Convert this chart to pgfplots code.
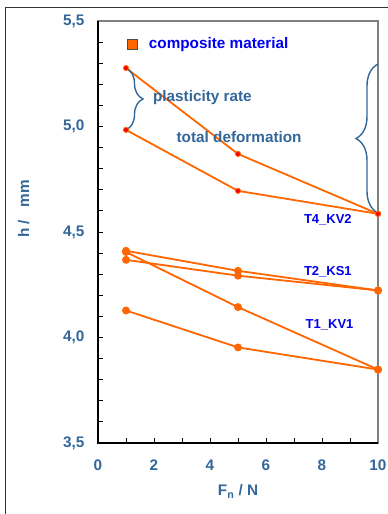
\documentclass[border=0pt]{standalone}
\usepackage{fontspec}
\setmainfont{Liberation Sans}
\usepackage{pgfplots}
\pgfplotsset{compat=1.18}
\usetikzlibrary{decorations.pathreplacing}
\definecolor{lineor}{RGB}{255,102,0}
\definecolor{steel}{RGB}{51,102,153}
\definecolor{txtblue}{RGB}{0,0,240}
\newcommand{\bigf}{\bfseries\fontsize{15.3}{17}\selectfont}
\newcommand{\smallf}{\bfseries\fontsize{13}{15}\selectfont}
\begin{document}
\begin{tikzpicture}
\useasboundingbox (0pt,0pt) rectangle (388pt,514pt);
\draw[line width=0.8pt, black!80] (5.5pt,0pt) -- (5.5pt,507pt) -- (388pt,507pt);
\begin{axis}[
 at={(98pt,71pt)}, anchor=south west,
 scale only axis, width=280pt, height=422pt,
 xmin=0, xmax=10, ymin=3.5, ymax=5.5,
 clip=false,
 xtick={0,2,...,10}, ytick={3.5,4,...,5.5},
 minor x tick num=1, minor y tick num=4,
 tick align=inside, tick pos=left,
 major tick length=5pt, minor tick length=5pt,
 every tick/.style={black, line width=0.8pt},
 axis line style={draw=gray, line width=1.2pt},
 /pgf/number format/assume math mode=true,
 ticklabel style={font=\bigf, text=steel},
 yticklabel style={/pgf/number format/.cd, fixed, fixed zerofill, precision=1, use comma, /tikz/.cd, xshift=-10pt},
 xticklabel style={yshift=-13pt},
 label style={font=\bigf, text=steel},
 xlabel={F\textsubscript{n} / N},
 xlabel style={at={(axis description cs:0.5,-0.115)}, anchor=center},
 ylabel={h /\ \ \ mm},
 ylabel style={at={(axis description cs:-0.265,0.555)}, anchor=center},
 legend style={draw=none, fill=none, inner sep=0pt, at={(axis cs:1.04,5.391)}, anchor=west, font=\bigf, text=txtblue},
 legend cell align=left,
]
\addlegendimage{legend image code/.code={\draw[fill=lineor, draw=black!70, line width=0.8pt] (0pt,-5pt) rectangle (10pt,5pt); \path (19pt,0pt);}}
\addlegendentry{composite material}

% T1_KV1
\addplot[forget plot, lineor, line width=1.8pt, mark=*, mark size=3pt, mark options={fill=lineor, draw=lineor}] coordinates {(1,4.128)(5,3.953)(10,3.848)};
\addplot[forget plot, lineor, line width=1.8pt, mark=*, mark size=3pt, mark options={fill=lineor, draw=lineor}] coordinates {(1,4.405)(5,4.144)(10,3.848)};
% T2_KS1
\addplot[forget plot, lineor, line width=1.8pt, mark=*, mark size=3pt, mark options={fill=lineor, draw=lineor}] coordinates {(1,4.411)(5,4.316)(10,4.223)};
\addplot[forget plot, lineor, line width=1.8pt, mark=*, mark size=3pt, mark options={fill=lineor, draw=lineor}] coordinates {(1,4.368)(5,4.293)(10,4.223)};
% T4_KV2
\addplot[forget plot, lineor, line width=1.8pt, mark=*, mark size=2.6pt, mark options={fill=red, draw=lineor, line width=0.8pt}] coordinates {(1,5.277)(5,4.870)(10,4.586)};
\addplot[forget plot, lineor, line width=1.8pt, mark=*, mark size=2.6pt, mark options={fill=red, draw=lineor, line width=0.8pt}] coordinates {(1,4.984)(5,4.695)(10,4.586)};

\draw[steel, line width=1.4pt, decorate, decoration={brace, amplitude=17pt}] (axis cs:1,5.277) -- (axis cs:1,4.984);
\draw[steel, line width=1.4pt, decorate, decoration={brace, amplitude=22pt}] (axis cs:10,4.59) -- (axis cs:10,5.296);

\node[anchor=west, text=steel, font=\bigf, inner sep=0pt] at (axis cs:1.96,5.135) {plasticity rate};
\node[text=steel, font=\bigf] at (axis cs:5.04,4.95) {total deformation};
\node[text=txtblue, font=\smallf] at (axis cs:8.21,4.558) {T4\_KV2};
\node[text=txtblue, font=\smallf] at (axis cs:8.21,4.313) {T2\_KS1};
\node[text=txtblue, font=\smallf] at (axis cs:8.27,4.06) {T1\_KV1};

\draw[black, line width=1.2pt] (rel axis cs:0,1) -- (rel axis cs:0,0) -- (rel axis cs:1,0);
\end{axis}
\end{tikzpicture}
\end{document}
